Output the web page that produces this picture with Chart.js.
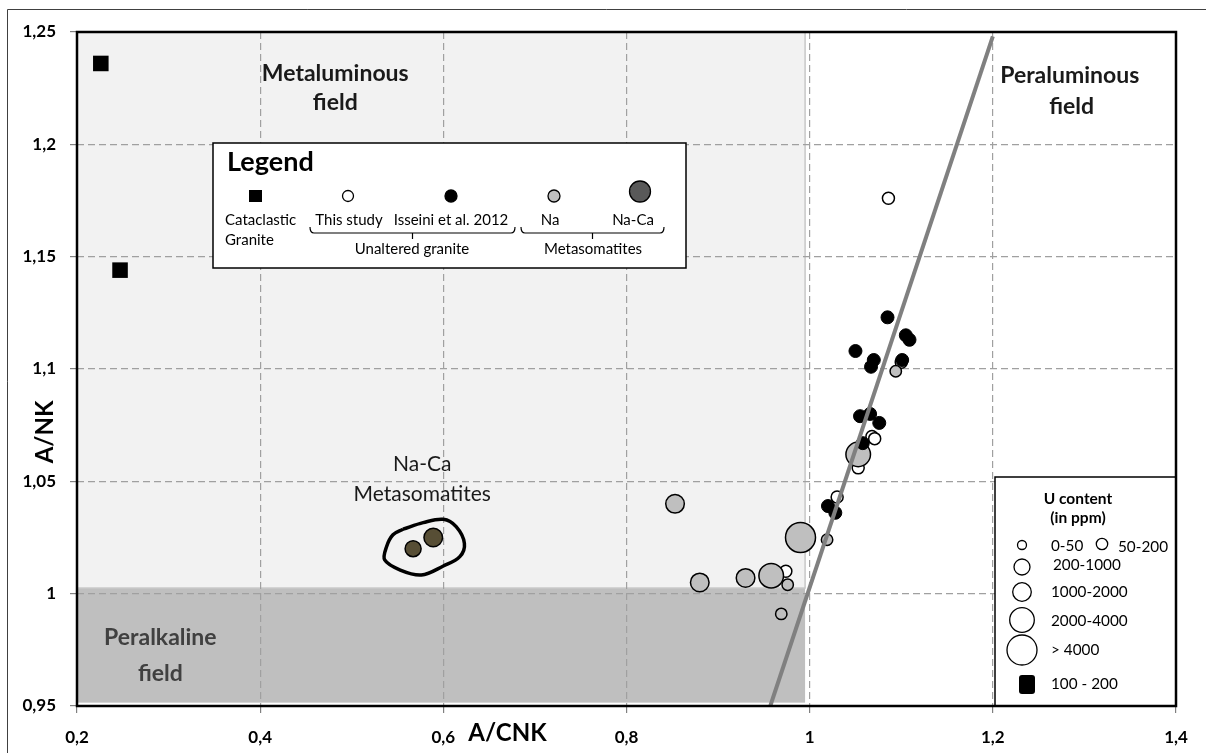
<!DOCTYPE html>
<html>
<head>
<meta charset="utf-8">
<script src="https://cdn.jsdelivr.net/npm/chart.js@4.4.1/dist/chart.umd.min.js"></script>
<style>
  html, body { margin: 0; padding: 0; background: #fff; }
</style>
</head>
<body>
<canvas id="plot" width="1206" height="753"></canvas>
<script>
// A/CNK vs A/NK values
const xTicks = [0.2, 0.4, 0.6, 0.8, 1, 1.2, 1.4];
const yTicks = [0.95, 1, 1.05, 1.1, 1.15, 1.2, 1.25];

// cataclastic granite
const catX = [0.226, 0.247];
const catY = [1.236, 1.144];

// unaltered granite - this study
const studyX = [1.086, 1.030, 1.053, 1.068, 1.071, 1.100, 0.974];
const studyY = [1.176, 1.043, 1.056, 1.070, 1.069, 1.103, 1.010];

// unaltered granite - Isseini et al. 2012
const isseiniX = [1.085, 1.105, 1.109, 1.050, 1.067, 1.070, 1.101, 1.055, 1.066, 1.076, 1.058, 1.020, 1.028];
const isseiniY = [1.123, 1.115, 1.113, 1.108, 1.101, 1.104, 1.104, 1.079, 1.080, 1.076, 1.067, 1.039, 1.036];

// Na metasomatites, U class = index into uBins
const naX = [0.853, 0.880, 0.930, 0.958, 0.990, 0.976, 0.969, 1.019, 1.053, 1.094];
const naY = [1.040, 1.005, 1.007, 1.008, 1.025, 1.004, 0.991, 1.024, 1.062, 1.099];
const naU = [3, 3, 3, 4, 5, 1, 1, 1, 4, 1];

// Na-Ca metasomatites
const nacaX = [0.567, 0.589];
const nacaY = [1.020, 1.025];
const nacaU = [2, 3];

// envelope drawn round the Na-Ca group
const loopX = [0.556, 0.578, 0.600, 0.614, 0.623, 0.618, 0.600, 0.576, 0.553, 0.536, 0.538, 0.545, 0.556];
const loopY = [1.0287, 1.0316, 1.0331, 1.0298, 1.0224, 1.0165, 1.0123, 1.0083, 1.0105, 1.0150, 1.0209, 1.0262, 1.0287];

// field boundaries
const peralumX = [0.957, 1.2];
const peralumY = [0.95, 1.248];
const fieldLeft = 0.2, fieldRight = 0.995, alkTop = 1.0025;

const uBins = ['0-50', '50-200', '200-1000', '1000-2000', '2000-4000', '> 4000'];
const uRadius = [4.5, 5.7, 8, 9.3, 12.3, 15];

const pts = (xs, ys) => xs.map((v, i) => ({ x: v, y: ys[i] }));
const fmt = v => String(Math.round(v * 100) / 100).replace('.', ',');
const FONT = 'Lato, "Open Sans", sans-serif';

function brace(ctx, x1, x2, yTop, yLine, yTip) {
  const mid = (x1 + x2) / 2;
  ctx.beginPath();
  ctx.moveTo(x1, yTop);
  ctx.quadraticCurveTo(x1, yLine, x1 + 4, yLine);
  ctx.lineTo(x2 - 4, yLine);
  ctx.quadraticCurveTo(x2, yLine, x2, yTop);
  ctx.moveTo(mid, yLine);
  ctx.lineTo(mid, yTip);
  ctx.stroke();
}

function circ(ctx, x, y, r, fill) {
  ctx.beginPath();
  ctx.arc(x, y, r, 0, Math.PI * 2);
  ctx.fillStyle = fill;
  ctx.fill();
  ctx.stroke();
}

// grey fields behind the grid
const fields = {
  id: 'fields',
  beforeDraw(chart) {
    const { ctx, scales: { x, y } } = chart;
    const l = x.getPixelForValue(fieldLeft), r = x.getPixelForValue(fieldRight);
    const t = y.getPixelForValue(1.25), m = y.getPixelForValue(alkTop), b = y.getPixelForValue(0.9515);
    ctx.save();
    ctx.fillStyle = '#f2f2f2';
    ctx.fillRect(l, t, r - l, m - t);
    ctx.fillStyle = '#bfbfbf';
    ctx.fillRect(l, m, r - l, b - m);
    ctx.strokeStyle = '#c8c8c8';
    ctx.lineWidth = 1.5;
    ctx.strokeRect(l, t, r - l, m - t);
    ctx.restore();
  }
};

// labels, legends and frames on top
const overlay = {
  id: 'overlay',
  afterDraw(chart) {
    const { ctx, chartArea: a, scales: { x, y } } = chart;
    ctx.save();
    ctx.textAlign = 'center';
    ctx.textBaseline = 'middle';

    // field names
    ctx.font = 'bold 23px ' + FONT;
    ctx.fillStyle = '#1a1a1a';
    ctx.fillText('Metaluminous', x.getPixelForValue(0.482), y.getPixelForValue(1.2317));
    ctx.fillText('field', x.getPixelForValue(0.482), y.getPixelForValue(1.2184));
    ctx.fillText('Peraluminous', x.getPixelForValue(1.284), y.getPixelForValue(1.2305));
    ctx.fillText('field', x.getPixelForValue(1.286), y.getPixelForValue(1.2167));
    ctx.fillStyle = '#404040';
    ctx.fillText('Peralkaline', x.getPixelForValue(0.291), y.getPixelForValue(0.9803));
    ctx.fillText('field', x.getPixelForValue(0.291), y.getPixelForValue(0.9643));

    ctx.font = '21px ' + FONT;
    ctx.fillStyle = '#1a1a1a';
    ctx.fillText('Na-Ca', x.getPixelForValue(0.577), y.getPixelForValue(1.0575));
    ctx.fillText('Metasomatites', x.getPixelForValue(0.577), y.getPixelForValue(1.0442));

    // axis titles
    ctx.font = 'bold 24px ' + FONT;
    ctx.fillStyle = '#000';
    ctx.fillText('A/CNK', x.getPixelForValue(0.67), a.bottom + 27);
    ctx.save();
    ctx.translate(45, y.getPixelForValue(1.072));
    ctx.rotate(-Math.PI / 2);
    ctx.fillText('A/NK', 0, 0);
    ctx.restore();

    // symbol legend
    ctx.fillStyle = '#fff';
    ctx.fillRect(213, 143, 473, 125);
    ctx.strokeStyle = '#000';
    ctx.lineWidth = 1.5;
    ctx.strokeRect(213, 143, 473, 125);
    ctx.textAlign = 'left';
    ctx.font = 'bold 27px ' + FONT;
    ctx.fillStyle = '#000';
    ctx.fillText('Legend', 227, 162);
    ctx.fillRect(249, 190, 13, 12);
    ctx.lineWidth = 1.3;
    circ(ctx, 348, 196, 5.5, '#fff');
    circ(ctx, 451, 196, 6, '#000');
    circ(ctx, 554, 196, 6, '#bfbfbf');
    circ(ctx, 640, 191.5, 10.5, '#595959');
    ctx.fillStyle = '#000';
    ctx.font = '15px ' + FONT;
    ctx.fillText('Cataclastic', 225, 220);
    ctx.fillText('Granite', 225, 240);
    ctx.textAlign = 'center';
    ctx.fillText('This study', 349, 220);
    ctx.fillText('Isseini et al. 2012', 451, 220);
    ctx.fillText('Na', 550, 220);
    ctx.fillText('Na-Ca', 633, 220);
    ctx.fillText('Unaltered granite', 412, 249);
    ctx.fillText('Metasomatites', 593, 249);
    ctx.lineWidth = 1.2;
    brace(ctx, 310, 515, 227, 233, 239);
    brace(ctx, 521, 664, 227, 233, 239);

    // U content legend
    ctx.fillStyle = '#fff';
    ctx.fillRect(995, 477, a.right - 995, a.bottom - 477);
    ctx.lineWidth = 1.5;
    ctx.strokeRect(995, 477, a.right - 995, a.bottom - 477);
    ctx.fillStyle = '#000';
    ctx.font = 'bold 15.5px ' + FONT;
    ctx.fillText('U content', 1078, 499);
    ctx.fillText('(in ppm)', 1078, 518);
    ctx.lineWidth = 1.3;
    circ(ctx, 1022, 545, uRadius[0], '#fff');
    circ(ctx, 1102, 544, uRadius[1], '#fff');
    circ(ctx, 1022, 567, uRadius[2], '#fff');
    circ(ctx, 1022, 592, uRadius[3], '#fff');
    circ(ctx, 1022, 620, uRadius[4], '#fff');
    circ(ctx, 1022, 650, uRadius[5], '#fff');
    ctx.fillStyle = '#000';
    ctx.beginPath();
    ctx.roundRect(1019, 675, 16, 19, 3);
    ctx.fill();
    ctx.textAlign = 'left';
    ctx.font = '15.3px ' + FONT;
    ctx.fillText(uBins[0], 1051, 546);
    ctx.fillText(uBins[1], 1118, 547);
    ctx.fillText(uBins[2], 1053, 565);
    ctx.fillText(uBins[3], 1051, 592);
    ctx.fillText(uBins[4], 1051, 621);
    ctx.fillText(uBins[5], 1051, 650);
    ctx.fillText('100 - 200', 1051, 684);

    // plot frame and outer frame
    ctx.strokeStyle = '#000';
    ctx.lineWidth = 2.5;
    ctx.strokeRect(a.left, a.top, a.right - a.left, a.bottom - a.top);
    ctx.lineWidth = 1;
    ctx.strokeStyle = '#404040';
    ctx.beginPath();
    ctx.moveTo(7.5, 753);
    ctx.lineTo(7.5, 9.5);
    ctx.lineTo(1206, 9.5);
    ctx.stroke();
    ctx.restore();
  }
};

const axisCommon = {
  type: 'linear',
  grid: { color: '#a0a0a0', lineWidth: 1.2, tickLength: 7, tickColor: '#808080', tickBorderDash: [] },
  border: { display: false, dash: [7, 4] },
  ticks: { font: { family: FONT, size: 17, weight: 'bold' }, color: '#000', padding: 14, callback: fmt, maxRotation: 0 }
};

new Chart(document.getElementById('plot'), {
  type: 'scatter',
  data: {
    datasets: [
      { label: 'Peraluminous limit', data: pts(peralumX, peralumY), showLine: true,
        borderColor: '#808080', borderWidth: 4, pointRadius: 0 },
      { label: 'Na-Ca envelope', data: pts(loopX, loopY), showLine: true, tension: 0.35,
        borderColor: '#000', borderWidth: 3.5, pointRadius: 0 },
      { label: 'Isseini et al. 2012', data: pts(isseiniX, isseiniY),
        pointRadius: 6.5, backgroundColor: '#000', borderColor: '#000', borderWidth: 1 },
      { label: 'Na', data: pts(naX, naY),
        pointRadius: naU.map(u => uRadius[u]), backgroundColor: '#bfbfbf', borderColor: '#000', borderWidth: 1.5 },
      { label: 'This study', data: pts(studyX, studyY),
        pointRadius: 6, backgroundColor: '#fff', borderColor: '#000', borderWidth: 1.5 },
      { label: 'Na-Ca', data: pts(nacaX, nacaY),
        pointRadius: nacaU.map(u => uRadius[u]), backgroundColor: '#574e35', borderColor: '#000', borderWidth: 1.5 },
      { label: 'Cataclastic granite', data: pts(catX, catY),
        pointStyle: 'rect', pointRadius: 11, backgroundColor: '#000', borderColor: '#000', borderWidth: 0 }
    ]
  },
  options: {
    responsive: false,
    animation: false,
    events: [],
    layout: { padding: { left: 0, top: 32, right: 30, bottom: 0 } },
    plugins: { legend: { display: false }, tooltip: { enabled: false } },
    scales: {
      x: { ...axisCommon, min: 0.2, max: 1.4,
        afterBuildTicks: s => { s.ticks = xTicks.map(v => ({ value: v })); },
        afterFit: s => { s.height = 47; } },
      y: { ...axisCommon, min: 0.95, max: 1.25,
        afterBuildTicks: s => { s.ticks = yTicks.map(v => ({ value: v })); },
        afterFit: s => { s.width = 77; } }
    }
  },
  plugins: [fields, overlay]
});
</script>
</body>
</html>
